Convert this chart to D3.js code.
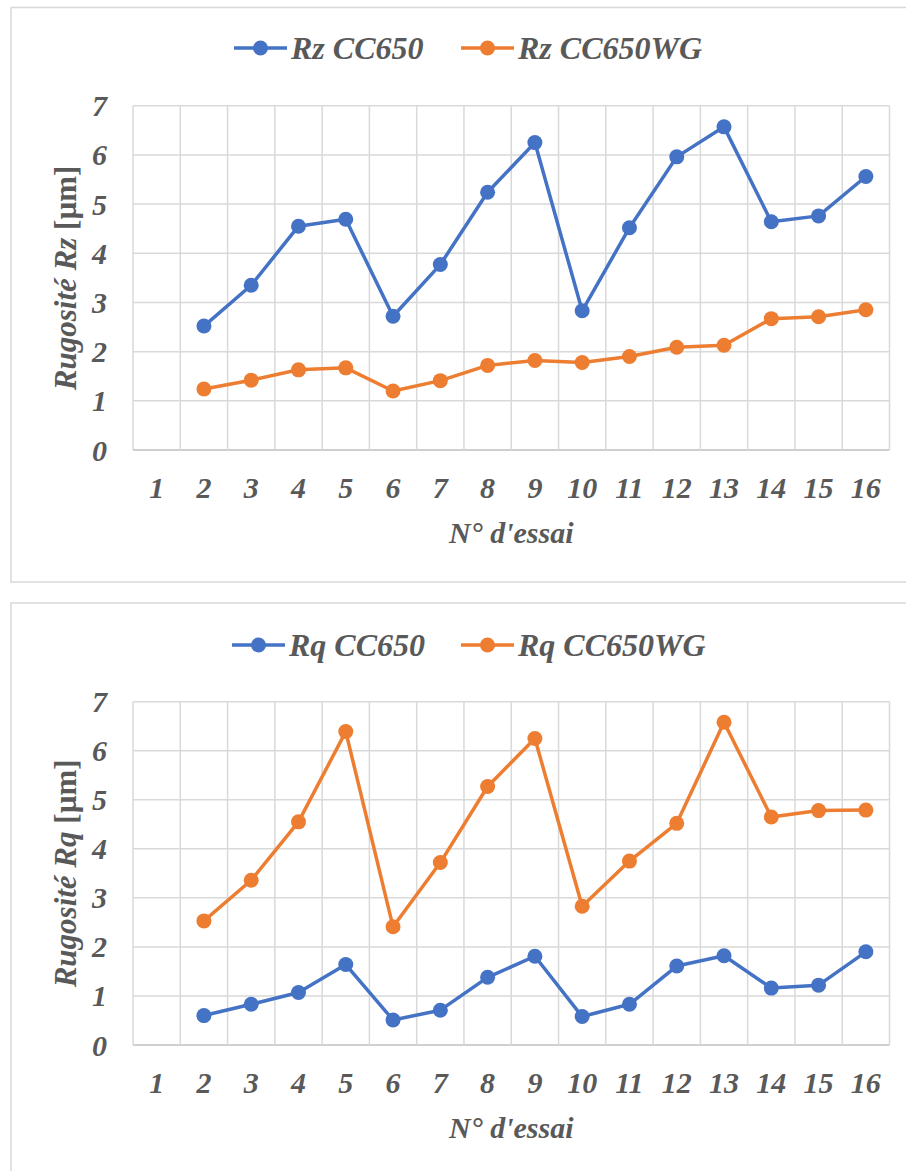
<!DOCTYPE html>
<html><head><meta charset="utf-8">
<script src="https://cdn.jsdelivr.net/npm/d3@7"></script>
<style>body{margin:0;background:#fff;} svg{display:block;}</style>
</head><body>
<svg id="c" width="906" height="1171"></svg>
<script>
const categories = ["1","2","3","4","5","6","7","8","9","10","11","12","13","14","15","16"];
const yTicks = [0,1,2,3,4,5,6,7];
const rzCC650   = [null,2.52,3.35,4.55,4.69,2.72,3.77,5.24,6.25,2.83,4.52,5.96,6.57,4.64,4.76,5.56];
const rzCC650WG = [null,1.24,1.42,1.63,1.67,1.20,1.41,1.72,1.82,1.78,1.90,2.09,2.13,2.67,2.71,2.85];
const rqCC650   = [null,0.60,0.83,1.07,1.64,0.51,0.71,1.38,1.81,0.58,0.83,1.61,1.82,1.16,1.22,1.90];
const rqCC650WG = [null,2.53,3.36,4.55,6.39,2.41,3.72,5.27,6.25,2.83,3.75,4.52,6.58,4.65,4.78,4.79];

const BLUE = "#4472C4", ORANGE = "#ED7D31", GRID = "#d9d9d9", TXT = "#595959";
const svg = d3.select("#c");

function txt(sel, size){
  return sel.style("font-family",'"Liberation Serif"').style("font-weight","bold")
    .style("font-style","italic").style("font-size",size+"px").style("fill",TXT);
}

function chart(cfg){
  const g = svg.append("g");
  g.append("rect").attr("x",11).attr("y",cfg.frameTop).attr("width",920).attr("height",cfg.frameH)
    .attr("fill","#fff").attr("stroke","#d9d9d9").attr("stroke-width",1.5);
  const x = d3.scaleBand().domain(categories).range([133,889.5]);
  const y = d3.scaleLinear().domain([0,7]).range([cfg.bottom, cfg.top]);
  g.selectAll(".hg").data(yTicks).enter().append("line")
    .attr("x1",133).attr("x2",889.5).attr("y1",d=>y(d)).attr("y2",d=>y(d))
    .attr("stroke",d=>d===0?"#bfbfbf":GRID).attr("stroke-width",1.5);
  const vx = categories.map(c=>x(c)).concat([x(categories[categories.length-1])+x.bandwidth()]);
  g.selectAll(".vg").data(vx).enter().append("line")
    .attr("x1",d=>d).attr("x2",d=>d).attr("y1",cfg.top).attr("y2",cfg.bottom)
    .attr("stroke",GRID).attr("stroke-width",1.5);
  txt(g.selectAll(".yt").data(yTicks).enter().append("text")
    .attr("x",107).attr("y",d=>y(d)).attr("dy","0.35em").attr("text-anchor","end"),30).text(d=>d);
  txt(g.selectAll(".xt").data(categories).enter().append("text")
    .attr("x",d=>x(d)+x.bandwidth()/2).attr("y",cfg.bottom+48).attr("text-anchor","middle"),30).text(d=>d);
  txt(g.append("text").attr("x",(133+889.5)/2).attr("y",cfg.bottom+93).attr("text-anchor","middle"),30)
    .text("N° d'essai");
  const yt = txt(g.append("text").attr("transform",`translate(76,${(cfg.top+cfg.bottom)/2}) rotate(-90)`)
    .attr("text-anchor","middle"),31);
  yt.append("tspan").text(cfg.yTitle[0]);
  yt.append("tspan").style("font-style","normal").text(cfg.yTitle[1]);
  const line = d3.line().defined(d=>d.v!==null).x(d=>x(d.c)+x.bandwidth()/2).y(d=>y(d.v));
  cfg.series.forEach(s=>{
    const pts = categories.map((c,i)=>({c, v:s.values[i]}));
    g.append("path").datum(pts).attr("d",line).attr("fill","none")
      .attr("stroke",s.color).attr("stroke-width",3.5).attr("stroke-linejoin","round");
    g.selectAll(null).data(pts.filter(d=>d.v!==null)).enter().append("circle")
      .attr("cx",d=>x(d.c)+x.bandwidth()/2).attr("cy",d=>y(d.v)).attr("r",7.5)
      .attr("fill",s.color);
  });
  cfg.series.forEach((s,i)=>{
    const lx = cfg.legendX[i], ly = cfg.legendY;
    g.append("line").attr("x1",lx).attr("x2",lx+53).attr("y1",ly).attr("y2",ly)
      .attr("stroke",s.color).attr("stroke-width",3.5);
    g.append("circle").attr("cx",lx+26.5).attr("cy",ly).attr("r",7.5).attr("fill",s.color);
    txt(g.append("text").attr("x",lx+57).attr("y",ly).attr("dy","0.35em"),32).text(s.name);
  });
}

chart({frameTop:7.5, frameH:574.5, top:105.7, bottom:450, yTitle:["Rugosité Rz ","[µm]"],
  legendY:48, legendX:[234,461],
  series:[{name:"Rz CC650", values:rzCC650, color:BLUE},{name:"Rz CC650WG", values:rzCC650WG, color:ORANGE}]});
chart({frameTop:603, frameH:600, top:701.7, bottom:1045, yTitle:["Rugosité Rq ","[µm]"],
  legendY:645, legendX:[232,461],
  series:[{name:"Rq CC650", values:rqCC650, color:BLUE},{name:"Rq CC650WG", values:rqCC650WG, color:ORANGE}]});
</script>
</body></html>
